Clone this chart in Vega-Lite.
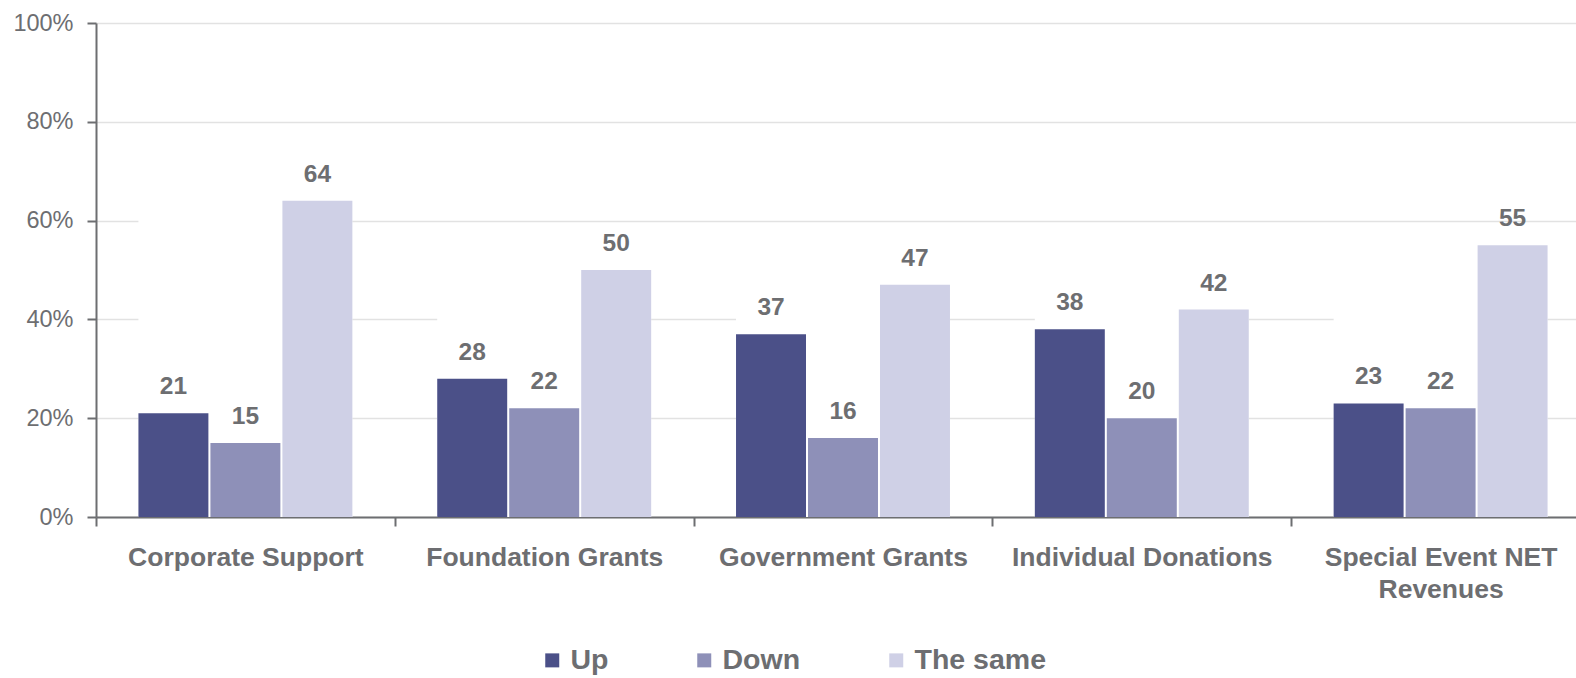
{
  "$schema": "https://vega.github.io/schema/vega-lite/v6.json",
  "autosize": {"type": "none"},
  "width": 1480,
  "height": 494,
  "padding": {"left": 96, "top": 23, "right": 0, "bottom": 161},
  "background": "white",
  "config": {"view": {"stroke": null}, "font": "Liberation Sans"},
  "data": {"values": [
    {"category": "Corporate Support", "series": "Up", "value": 21},
    {"category": "Corporate Support", "series": "Down", "value": 15},
    {"category": "Corporate Support", "series": "The same", "value": 64},
    {"category": "Foundation Grants", "series": "Up", "value": 28},
    {"category": "Foundation Grants", "series": "Down", "value": 22},
    {"category": "Foundation Grants", "series": "The same", "value": 50},
    {"category": "Government Grants", "series": "Up", "value": 37},
    {"category": "Government Grants", "series": "Down", "value": 16},
    {"category": "Government Grants", "series": "The same", "value": 47},
    {"category": "Individual Donations", "series": "Up", "value": 38},
    {"category": "Individual Donations", "series": "Down", "value": 20},
    {"category": "Individual Donations", "series": "The same", "value": 42},
    {"category": "Special Event NET Revenues", "series": "Up", "value": 23},
    {"category": "Special Event NET Revenues", "series": "Down", "value": 22},
    {"category": "Special Event NET Revenues", "series": "The same", "value": 55}
  ]},
  "encoding": {
    "x": {
      "field": "category", "type": "nominal",
      "sort": ["Corporate Support", "Foundation Grants", "Government Grants", "Individual Donations", "Special Event NET Revenues"],
      "scale": {"paddingInner": 0.284, "paddingOuter": 0.142, "range": [0, 1494]},
      "axis": {
        "title": null, "labelAngle": 0,
        "tickOffset": -149.4, "labelOffset": 149.4,
        "labelFontSize": 26.5, "labelFontWeight": "bold", "labelColor": "#6d6e71",
        "labelLimit": 500, "labelPadding": 18, "labelLineHeight": 32,
        "labelExpr": "datum.label == 'Special Event NET Revenues' ? ['Special Event NET', 'Revenues'] : datum.label",
        "domainColor": "#6d6e71", "domainWidth": 2,
        "tickColor": "#6d6e71", "tickWidth": 2, "tickSize": 9,
        "grid": false
      }
    }
  },
  "layer": [
    {
      "mark": {"type": "bar", "color": "white"},
      "encoding": {
        "y": {
          "aggregate": "max", "field": "value", "type": "quantitative", "title": null,
          "scale": {"domain": [0, 100]},
          "axis": {
            "title": null, "values": [0, 20, 40, 60, 80, 100],
            "labelExpr": "datum.value + '%'",
            "labelFontSize": 23.5, "labelColor": "#6d6e71", "labelPadding": 14,
            "domainColor": "#6d6e71", "domainWidth": 2,
            "tickColor": "#6d6e71", "tickWidth": 2, "tickSize": 9,
            "grid": true, "gridColor": "#e2e2e2", "gridWidth": 1.5
          }
        }
      }
    },
    {
      "mark": {"type": "bar"},
      "encoding": {
        "xOffset": {"field": "series", "sort": ["Up", "Down", "The same"], "scale": {"paddingInner": 0.028, "paddingOuter": 0}},
        "y": {"field": "value", "type": "quantitative", "title": null},
        "color": {
          "field": "series", "type": "nominal",
          "sort": ["Up", "Down", "The same"],
          "scale": {"domain": ["Up", "Down", "The same"], "range": ["#4b5088", "#8e90b8", "#cfd0e6"]},
          "legend": {
            "title": null, "orient": "none", "direction": "horizontal",
            "legendX": 442, "legendY": 623, "padding": 0,
            "symbolType": "square", "symbolSize": 196, "symbolStrokeWidth": 0,
            "labelFontSize": 28.5, "labelFontWeight": "bold", "labelColor": "#6d6e71",
            "labelOffset": 4, "columnPadding": 81
          }
        }
      }
    },
    {
      "mark": {"type": "text", "baseline": "alphabetic", "dy": -19, "fontSize": 24.5, "fontWeight": "bold", "color": "#6d6e71"},
      "encoding": {
        "xOffset": {"field": "series", "sort": ["Up", "Down", "The same"]},
        "y": {"field": "value", "type": "quantitative", "title": null},
        "text": {"field": "value", "type": "quantitative"}
      }
    }
  ]
}
